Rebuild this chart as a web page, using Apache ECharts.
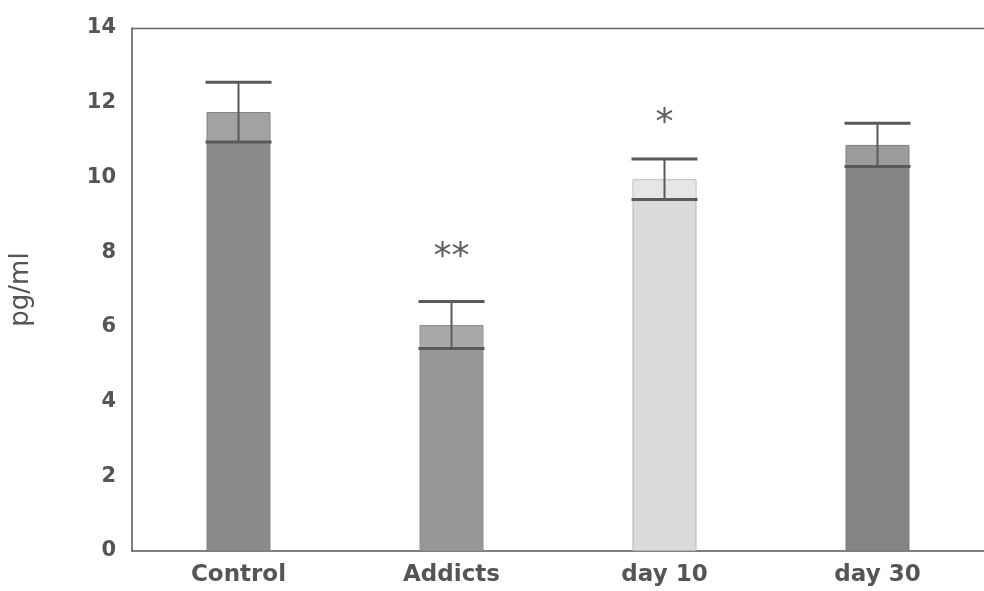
<!DOCTYPE html>
<html>
<head>
<meta charset="utf-8">
<script src="https://cdn.jsdelivr.net/npm/echarts@6/dist/echarts.min.js"></script>
<style>html,body{margin:0;padding:0;background:#fff}#c{width:984px;height:591px}</style>
</head>
<body>
<div id="c"></div>
<script>
const categories = ['Control', 'Addicts', 'day 10', 'day 30'];
const means = [11.75, 6.05, 9.95, 10.87];
const errors = [0.8, 0.63, 0.54, 0.58];
const sigLabels = ['', '**', '*', ''];
const sigLevels = [null, 7.86, 11.43, null];
const yTicks = [0, 2, 4, 6, 8, 10, 12, 14];

const barColors = ['#8b8b8b', '#979797', '#dadada', '#848484'];
const barTopColors = ['#a2a2a2', '#a9a9a9', '#e6e6e6', '#9c9c9c'];
const barBorders = ['#838383', '#8f8f8f', '#b5b5b5', '#7c7c7c'];

const chart = echarts.init(document.getElementById('c'));
const font = 'DejaVu Sans';

chart.setOption({
  backgroundColor: '#fff',
  animation: false,
  grid: { left: 131, top: 28, bottom: 40, width: 856 },
  xAxis: [{
    type: 'category',
    data: categories,
    axisLine: { lineStyle: { color: '#555', width: 1.5 } },
    axisTick: { show: false },
    axisLabel: { color: '#555', fontFamily: font, fontWeight: 'bold', fontSize: 23, margin: 13 },
    splitLine: { show: false }
  }, {
    type: 'category',
    data: categories,
    position: 'top',
    axisLine: { show: true, lineStyle: { color: '#666', width: 1.3 } },
    axisTick: { show: false },
    axisLabel: { show: false },
    splitLine: { show: false }
  }],
  yAxis: {
    type: 'value',
    min: yTicks[0],
    max: yTicks[yTicks.length - 1],
    interval: 2,
    name: 'pg/ml',
    nameLocation: 'middle',
    nameGap: 98,
    nameTextStyle: { color: '#555', fontFamily: font, fontSize: 26 },
    axisLine: { show: true, lineStyle: { color: '#555', width: 1.5 } },
    axisTick: { show: false },
    axisLabel: { color: '#555', fontFamily: font, fontWeight: 'bold', fontSize: 21, margin: 16, padding: [0, 0, 8, 0] },
    splitLine: { show: false }
  },
  series: [
    {
      type: 'bar',
      data: means.map((v, i) => ({ value: v, itemStyle: { color: barColors[i], borderColor: barBorders[i], borderWidth: 1 } })),
      barWidth: 64,
      z: 2
    },
    {
      type: 'custom',
      z: 5,
      data: means.map((v, i) => [i, v - errors[i], v + errors[i], v]),
      renderItem: function (params, api) {
        const i = api.value(0);
        const lo = api.coord([i, api.value(1)]);
        const hi = api.coord([i, api.value(2)]);
        const top = api.coord([i, api.value(3)]);
        const hw = 33;
        const bw = 64;
        const style = { stroke: '#5a5a5a', lineWidth: 3 };
        return {
          type: 'group',
          children: [
            { type: 'rect', shape: { x: top[0] - bw / 2 + 1, y: top[1] + 1, width: bw - 2, height: lo[1] - top[1] - 1 }, style: { fill: barTopColors[i] } },
            { type: 'line', shape: { x1: lo[0], y1: lo[1], x2: hi[0], y2: hi[1] }, style: { stroke: '#5a5a5a', lineWidth: 2 } },
            { type: 'line', shape: { x1: hi[0] - hw, y1: hi[1], x2: hi[0] + hw, y2: hi[1] }, style: style },
            { type: 'line', shape: { x1: lo[0] - hw, y1: lo[1], x2: lo[0] + hw, y2: lo[1] }, style: style }
          ]
        };
      }
    },
    {
      type: 'custom',
      z: 6,
      data: sigLabels.map((t, i) => [i, sigLevels[i] == null ? 0 : sigLevels[i], t]),
      renderItem: function (params, api) {
        const i = api.value(0);
        const txt = sigLabels[i];
        if (!txt) return null;
        const p = api.coord([i, api.value(1)]);
        return {
          type: 'text',
          x: p[0], y: p[1],
          style: { text: txt, fill: '#5e5e5e', font: '36px "DejaVu Sans"', align: 'center', verticalAlign: 'middle' }
        };
      }
    }
  ]
});
</script>
</body>
</html>
